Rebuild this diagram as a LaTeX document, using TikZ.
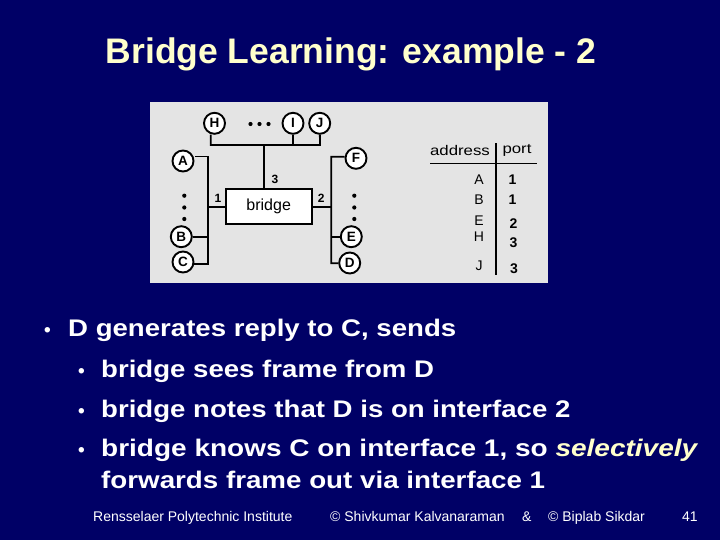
\documentclass[tikz,border=0pt]{standalone}
\usepackage{fontspec}
\setmainfont{Liberation Sans}
\definecolor{navy}{RGB}{0,0,102}
\definecolor{cream}{RGB}{255,255,204}
\definecolor{panel}{RGB}{228,228,228}
\tikzset{
  host/.style={circle,draw=black,line width=1.9pt,fill=white,minimum size=21pt,inner sep=0pt,font=\fontsize{13.5}{13.5}\selectfont\bfseries},
  wire/.style={line width=1.8pt,black},
  dot/.style={circle,fill=black,inner sep=0pt,minimum size=4.2pt},
  lbl/.style={font=\fontsize{12}{12}\selectfont\bfseries,inner sep=0pt},
  tab/.style={font=\fontsize{14}{14}\selectfont,inner sep=0pt},
  tabn/.style={font=\fontsize{14}{14}\selectfont\bfseries,inner sep=0pt},
  bul/.style={anchor=base west,inner sep=0pt,text=white,font=\fontsize{24}{24}\selectfont\bfseries},
  bdot/.style={anchor=base west,inner sep=0pt,text=white,font=\fontsize{19}{19}\selectfont\bfseries},
  foot/.style={anchor=base west,inner sep=0pt,text=white,font=\fontsize{14}{14}\selectfont}
}
\newcommand{\wideb}[1]{\scalebox{1.15}[1]{#1}}
\begin{document}
\begin{tikzpicture}[x=1pt,y=-1pt]
\fill[navy] (0,0) rectangle (720,540);
\useasboundingbox (0,0) rectangle (720,540);
% title
\node[anchor=base,inner sep=0pt,text=cream,font=\fontsize{35.5}{35.5}\selectfont\bfseries] (title) at (351,64) {Bridge Learning: example - 2};
% panel
\fill[panel] (150,102) rectangle (548,283);
% bridge
\node[draw=black,line width=1.9pt,fill=white,minimum width=86pt,minimum height=34.5pt,inner sep=0pt,font=\fontsize{16}{16}\selectfont] (br) at (268.7,206.7) {bridge};
% hosts
\node[host] (H) at (214.5,123.3) {H};
\node[host] (I) at (293,123.3) {I};
\node[host] (J) at (319.7,123.3) {J};
\node[host] (A) at (183,161) {A};
\node[host] (B) at (181.3,236.7) {B};
\node[host] (C) at (183,262) {C};
\node[host] (F) at (356,158.3) {F};
\node[host] (E) at (351.3,236.7) {E};
\node[host] (D) at (349.7,263) {D};
% coordinates
\coordinate (tbL) at (210.7,145);
\coordinate (tbI) at (293,145);
\coordinate (tbJ) at (320,145);
\coordinate (tbM) at (264,145);
\coordinate (lbT) at (208,156.5);
\coordinate (lbB) at (208,236.7);
\coordinate (lbC) at (208,264);
\coordinate (lbM) at (208,206.7);
\coordinate (rbT) at (331.3,156.7);
\coordinate (rbE) at (331.3,236.7);
\coordinate (rbD) at (331.3,263.3);
\coordinate (rbM) at (331.3,206.7);
% top bus
\draw[wire] (H.south -| tbL) -- (tbL) -- (tbJ) -- (J);
\draw[wire] (tbI) -- (I);
\draw[wire] (tbM) -- (br.north -| tbM);
% left bus
\draw[wire] (195,156.5) -- (lbT) -- (lbC) -- (lbC -| C.east);
\draw[wire] (B) -- (lbB);
\draw[wire] (lbM) -- (br.west);
% right bus
\draw[wire] (F.west |- rbT) -- (rbT) -- (rbD) -- (D);
\draw[wire] (rbE) -- (E);
\draw[wire] (br.east) -- (rbM);
% dots
\node[dot] (d1) at (250.5,124) {};
\node[dot] (d2) at (259.5,124) {};
\node[dot] (d3) at (268.5,124) {};
\node[dot] (d4) at (184.3,195.7) {};
\node[dot] (d5) at (184.3,207.5) {};
\node[dot] (d6) at (184.3,219) {};
\node[dot] (d7) at (354.3,195.7) {};
\node[dot] (d8) at (354.3,207.5) {};
\node[dot] (d9) at (354.3,219) {};
% port labels
\node[lbl] (p3) at (275,179) {3};
\node[lbl] (p1) at (218,198.3) {1};
\node[lbl] (p2) at (321.3,198.3) {2};
% table
\node[tab] (addr) at (460,150.7) {\scalebox{1.2}[1]{address}};
\node[tab] (port) at (517,150.7) {\scalebox{1.2}[1]{port}};
\coordinate (hl) at (430,163.3);
\coordinate (hr) at (537.3,163.3);
\coordinate (vt) at (496,143.3);
\coordinate (vb) at (496,275);
\draw[line width=1.5pt] (hl) -- (hr);
\draw[line width=1.5pt] (vt) -- (vb);
\node[tab] (rA) at (479,179.3) {A};
\node[tab] (rB) at (479,199.3) {B};
\node[tab] (rE) at (479,221) {E};
\node[tab] (rH) at (479,237) {H};
\node[tab] (rJ) at (479,266) {J};
\node[tabn] (pA) at (512.5,179.3) {1};
\node[tabn] (pB) at (512.5,199.3) {1};
\node[tabn] (pE) at (513.5,223.3) {2};
\node[tabn] (pH) at (513.5,242.3) {3};
\node[tabn] (pJ) at (514,268.3) {3};
% bullets
\node[bdot] (b0) at (44,336) {•};
\node[bul] (t0) at (68,336) {\wideb{D generates reply to C, sends}};
\node[bdot] (b1) at (78,377) {•};
\node[bul] (t1) at (101,377) {\wideb{bridge sees frame from D}};
\node[bdot] (b2) at (78,417) {•};
\node[bul] (t2) at (101,417) {\wideb{bridge notes that D is on interface 2}};
\node[bdot] (b3) at (78,456.7) {•};
\node[bul] (t3) at (101,456.7) {\resizebox{596pt}{\height}{bridge knows C on interface 1, so \textcolor{cream}{\itshape selectively}}};
\node[bul] (t4) at (101,488.5) {\resizebox{444pt}{\height}{forwards frame out via interface 1}};
% footer
\node[foot] (f1) at (93,521) {Rensselaer Polytechnic Institute};
\node[foot] (f2) at (330,521) {© Shivkumar Kalvanaraman};
\node[foot] (f3) at (522,521) {\&};
\node[foot] (f4) at (548,521) {© Biplab Sikdar};
\node[foot] (f5) at (682,521) {41};
\end{tikzpicture}
\end{document}
